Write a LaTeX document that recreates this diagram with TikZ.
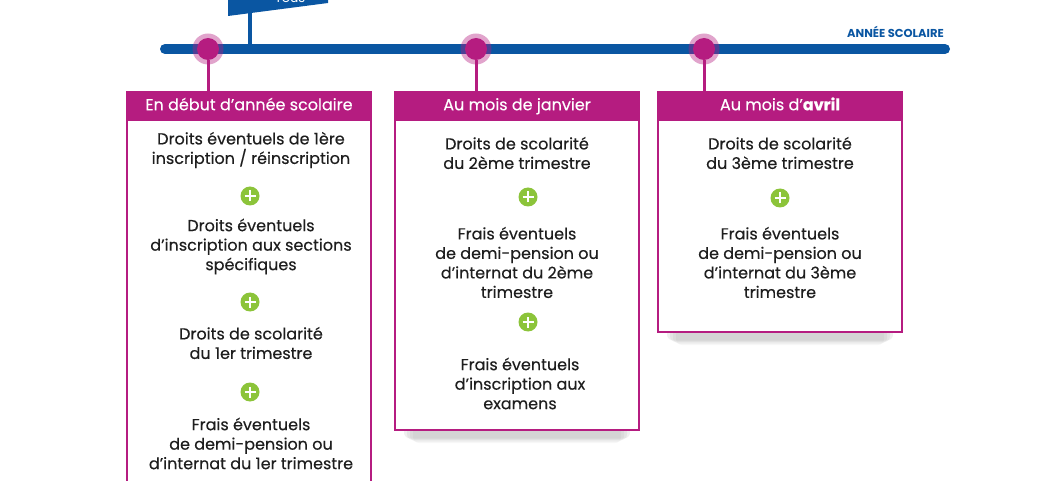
\documentclass[tikz,border=0pt]{standalone}
\usepackage{fontspec}
\setmainfont{Poppins}
\newfontfamily\bodyfont{Poppins}[FakeBold=0.25]
\usetikzlibrary{positioning}
\definecolor{tblue}{HTML}{0A56A2}
\definecolor{tmag}{HTML}{B51C80}
\definecolor{tgreen}{HTML}{8CC43A}
\definecolor{ttext}{HTML}{1E1E1E}
\tikzset{
  hdr/.style={rectangle, fill=tmag, draw=tmag, line width=1.5pt, text=white, minimum width=244pt, minimum height=28pt, inner sep=0pt, text height=11pt, text depth=2.5pt, font=\bodyfont\fontsize{16}{18}\selectfont},
  body/.style={rectangle, draw=tmag, line width=2pt, fill=white, minimum width=244pt, inner sep=0pt},
  item/.style={align=center, text=ttext, inner sep=0pt, font=\bodyfont\fontsize{16}{19.5}\selectfont},
  plus/.style={circle, fill=tgreen, minimum size=19pt, inner sep=0pt, path picture={
      \draw[white, line width=2.8pt] ([xshift=-5.5pt]path picture bounding box.center) -- ([xshift=5.5pt]path picture bounding box.center);
      \draw[white, line width=2.8pt] ([yshift=-5.5pt]path picture bounding box.center) -- ([yshift=5.5pt]path picture bounding box.center);}},
  dot/.style={circle, fill=tmag, minimum size=22pt, inner sep=0pt},
  halo/.style={circle, fill=tmag, fill opacity=0.4, minimum size=31pt, inner sep=0pt},
  stem/.style={draw=tmag, line width=3pt}
}
\begin{document}
\begin{tikzpicture}[x=1pt,y=-1pt]
\useasboundingbox (0,0) rectangle (1050,481);
\clip (0,0) rectangle (1050,481);
% flag
\draw[tblue, line width=4pt] (250,0) -- (250,49);
\fill[tblue] (228,-20) -- (328,-20) -- (328,3) -- (228,16) -- cycle;
\node[text=white, font=\fontsize{13}{15}\selectfont, anchor=base] (flagtext) at (290,3) {Tous};
% timeline
\draw[tblue, line width=10pt, line cap=round] (165,49) -- (945,49);
\node[text=tblue, font=\fontsize{11.5}{13}\selectfont\bfseries, anchor=east, inner sep=0pt] (annee) at (944,32) {ANNÉE SCOLAIRE};
% shadows
\foreach \o/\s in {0.03/10, 0.04/7, 0.05/4, 0.06/1}{
  \fill[black, opacity=\o, rounded corners=6pt] (403+\s,426) rectangle (631-\s,438+\s/2);
  \fill[black, opacity=\o, rounded corners=6pt] (666+\s,328) rectangle (894-\s,340+\s/2);
}
% boxes
\node[body, minimum height=380pt] (box1) at (249,310) {};
\node[body, minimum height=310pt] (box2) at (517,275) {};
\node[body, minimum height=212pt] (box3) at (780,226) {};
\node[hdr] (hdr1) at (249,106) {En début d’année scolaire};
\node[hdr] (hdr2) at (517,106) {Au mois de janvier};
\node[hdr] (hdr3) at (780,106) {Au mois d’\textbf{avril}};
% dots
\node[halo] (halo1) at (208,49) {};
\node[halo] (halo2) at (476,49) {};
\node[halo] (halo3) at (704,49) {};
\node[dot] (dot1) at (208,49) {};
\node[dot] (dot2) at (476,49) {};
\node[dot] (dot3) at (704,49) {};
\draw[stem] (dot1.south) -- (dot1.south |- hdr1.north);
\draw[stem] (dot2.south) -- (dot2.south |- hdr2.north);
\draw[stem] (dot3.south) -- (dot3.south |- hdr3.north);
% box 1
\node[item] (a1) at (251,150) {Droits éventuels de 1ère\\inscription / réinscription};
\node[plus] (p1) at (250,196) {};
\node[item] (a2) at (251,246.5) {Droits éventuels\\d’inscription aux sections\\spécifiques};
\node[plus] (p2) at (250,302) {};
\node[item] (a3) at (251,343) {Droits de scolarité\\du 1er trimestre};
\node[plus] (p3) at (250,392) {};
\node[item] (a4) at (251,443.5) {Frais éventuels\\de demi-pension ou\\d’internat du 1er trimestre};
% box 2
\node[item] (b1) at (517,153) {Droits de scolarité\\du 2ème trimestre};
\node[plus] (q1) at (528,197) {};
\node[item] (b2) at (517,262.5) {Frais éventuels\\de demi-pension ou\\d’internat du 2ème\\trimestre};
\node[plus] (q2) at (528,322) {};
\node[item] (b3) at (520,383.5) {Frais éventuels\\d’inscription aux\\examens};
% box 3
\node[item] (c1) at (780,153) {Droits de scolarité\\du 3ème trimestre};
\node[plus] (r1) at (780,198) {};
\node[item] (c2) at (780,262.5) {Frais éventuels\\de demi-pension ou\\d’internat du 3ème\\trimestre};
\end{tikzpicture}
\end{document}
